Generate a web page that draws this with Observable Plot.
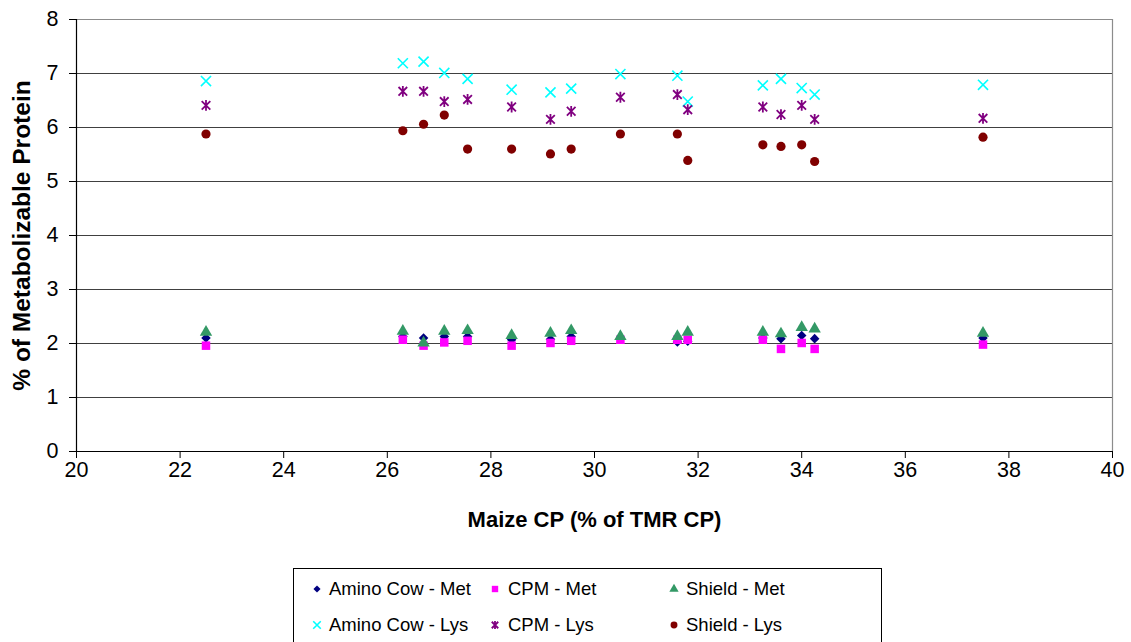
<!DOCTYPE html>
<html>
<head>
<meta charset="utf-8">
<script src="https://cdn.jsdelivr.net/npm/d3@7"></script>
<script src="https://cdn.jsdelivr.net/npm/@observablehq/plot@0.6"></script>
<style>
  html, body { margin: 0; padding: 0; background: #fff; overflow: hidden; }
  #wrap { position: relative; width: 1131px; height: 642px; font-family: "Liberation Sans", Arial, sans-serif; }
  #legend { position: absolute; left: 293px; top: 568px; width: 589px; height: 80px; border: 1px solid #000; box-sizing: border-box; }
  .item { position: absolute; height: 24px; display: flex; align-items: center; font-size: 18.5px; color: #000; white-space: nowrap; }
</style>
</head>
<body>
<div id="wrap"><div id="chart"></div><div id="legend"></div></div>
<script>
// ---- data ----
const maizeCP   = [22.5, 26.3, 26.7, 27.1, 27.55, 28.4, 29.15, 29.55, 30.5, 31.6, 31.8, 33.25, 33.6, 34.0, 34.25, 37.5];
const aminoMet  = [2.10, 2.13, 2.10, 2.13, 2.13, 2.07, 2.08, 2.13, 2.09, 2.03, 2.04, 2.10, 2.09, 2.15, 2.09, 2.10];
const cpmMet    = [1.96, 2.07, 1.96, 2.02, 2.05, 1.96, 2.01, 2.05, 2.07, 2.07, 2.07, 2.07, 1.90, 2.01, 1.90, 1.98];
const shieldMet = [2.21, 2.23, 2.01, 2.23, 2.24, 2.15, 2.19, 2.24, 2.13, 2.13, 2.21, 2.21, 2.18, 2.30, 2.27, 2.19];
const aminoLys  = [6.86, 7.19, 7.22, 7.01, 6.90, 6.70, 6.65, 6.72, 6.99, 6.96, 6.48, 6.78, 6.90, 6.73, 6.61, 6.79];
const cpmLys    = [6.41, 6.67, 6.67, 6.48, 6.52, 6.38, 6.15, 6.30, 6.56, 6.61, 6.33, 6.38, 6.24, 6.41, 6.15, 6.17];
const shieldLys = [5.88, 5.94, 6.06, 6.23, 5.60, 5.60, 5.51, 5.60, 5.88, 5.88, 5.39, 5.68, 5.65, 5.68, 5.37, 5.82];

const seriesNames = ["Amino Cow - Met", "CPM - Met", "Shield - Met", "Amino Cow - Lys", "CPM - Lys", "Shield - Lys"];
const seriesValues = [aminoMet, cpmMet, shieldMet, aminoLys, cpmLys, shieldLys];
const xTicks = [20, 22, 24, 26, 28, 30, 32, 34, 36, 38, 40];
const yTicks = [0, 1, 2, 3, 4, 5, 6, 7, 8];
const xTitle = "Maize CP (% of TMR CP)";
const yTitle = "% of Metabolizable Protein";

// Excel-style asterisk: an X plus a vertical stroke
const excelStar = {
  draw(context, size) {
    const r = Math.sqrt(size / Math.PI);
    const a = r * 0.8;
    context.moveTo(-a, -a); context.lineTo(a, a);
    context.moveTo(a, -a); context.lineTo(-a, a);
    context.moveTo(0, -r); context.lineTo(0, r);
  }
};
const excelX = {
  draw(context, size) {
    const r = Math.sqrt(size / Math.PI);
    const a = r * 0.9;
    context.moveTo(-a, -a); context.lineTo(a, a);
    context.moveTo(a, -a); context.lineTo(-a, a);
  }
};

// ---- styles per series ----
const styles = [
  {symbol: d3.symbolDiamond2, fill: "#000080", r: 4.3},
  {symbol: d3.symbolSquare, fill: "#FF00FF", r: 4.8},
  {symbol: d3.symbolTriangle, fill: "#339966", r: 4.6},
  {symbol: excelX, stroke: "#00FFFF", r: 5.6, strokeWidth: 1.6},
  {symbol: excelStar, stroke: "#800080", r: 5.4, strokeWidth: 1.8},
  {symbol: d3.symbolCircle, fill: "#800000", r: 4.6}
];

const rows = seriesValues.map(vals => maizeCP.map((x, i) => ({x, y: vals[i]})));

const dotMarks = rows.map((data, k) => {
  const s = styles[k];
  return Plot.dot(data, {
    x: "x", y: "y", symbol: s.symbol, r: s.r,
    fill: s.fill || "none", stroke: s.stroke || "none", strokeWidth: s.strokeWidth || 1
  });
});

const chart = Plot.plot({
  width: 1131,
  height: 560,
  marginTop: 19,
  marginRight: 19,
  marginBottom: 109,
  marginLeft: 76,
  style: {fontFamily: "'Liberation Sans', Arial, sans-serif", fontSize: "21px", color: "#000", background: "#fff"},
  x: {domain: [20, 40]},
  y: {domain: [0, 8]},
  marks: [
    Plot.gridY(yTicks.filter(d => d > 0 && d < 8), {stroke: "#404040", strokeOpacity: 1, strokeWidth: 1}),
    Plot.ruleY([8], {stroke: "#8c8c8c", strokeWidth: 1.2}),
    Plot.ruleX([40], {stroke: "#8c8c8c", strokeWidth: 1.2}),
    Plot.axisX({ticks: xTicks, tickSize: 7, tickPadding: 3, label: null, tickFormat: d => String(d), fontSize: 21.5}),
    Plot.axisY({ticks: yTicks, tickSize: 7, tickPadding: 11, label: null, tickFormat: d => String(d), fontSize: 21.5}),
    Plot.ruleY([0], {stroke: "#000", strokeWidth: 1.2}),
    Plot.ruleX([20], {stroke: "#000", strokeWidth: 1.2}),
    ...dotMarks,
    Plot.text([xTitle], {frameAnchor: "bottom", dy: 75, text: d => d, fontWeight: "bold", fontSize: 22, fill: "#000", textAnchor: "middle"}),
    Plot.text([yTitle], {frameAnchor: "left", dx: -54, rotate: -90, text: d => d, fontWeight: "bold", fontSize: 24.5, fill: "#000", textAnchor: "middle"})
  ]
});
document.getElementById("chart").appendChild(chart);

// ---- legend ----
const legend = document.getElementById("legend");
const colX = [35, 214, 392];
const rowY = [20, 56];
const markX = [23, 201, 380];
seriesNames.forEach((name, k) => {
  const col = k % 3, row = Math.floor(k / 3);
  const s = styles[k];
  const item = document.createElement("div");
  item.className = "item";
  item.style.left = colX[col] + "px";
  item.style.top = (rowY[row] - 12) + "px";
  item.textContent = name;
  legend.appendChild(item);
  const svg = d3.create("svg").attr("width", 14).attr("height", 14)
    .style("position", "absolute").style("left", (markX[col] - 7) + "px").style("top", (rowY[row] - 7) + "px");
  const rr = s.r * 0.75;
  svg.append("path").attr("transform", "translate(7,7)")
    .attr("d", d3.symbol(s.symbol, Math.PI * rr * rr)())
    .attr("fill", s.fill || "none").attr("stroke", s.stroke || "none").attr("stroke-width", s.strokeWidth || 1);
  legend.appendChild(svg.node());
});
</script>
</body>
</html>
